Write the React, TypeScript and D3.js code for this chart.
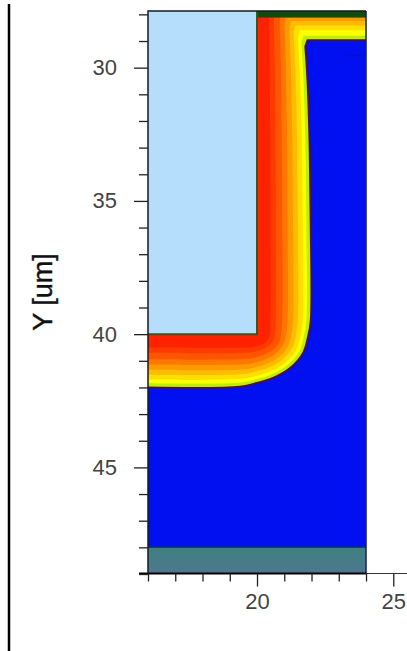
import React, { useEffect, useRef } from 'react';
import * as d3 from 'd3';

// tick values, um
const xMajorTicks = [20, 25];
const xMinorTicks = [16, 17, 18, 19, 21, 22, 23, 24];
const yMajorTicks = [30, 35, 40, 45];
const yMinorTicks = [28, 29, 31, 32, 33, 34, 36, 37, 38, 39, 41, 42, 43, 44, 46, 47, 48, 49];

// device layers, um
const xEdges = [16, 20, 24];
const yEdges = [27.87, 28.12, 40, 48, 49];

// outer edge of the doped region (x, y in um)
const junctionX = [24, 21.85, 21.77, 21.85, 21.93, 21.97, 21.97, 21.87, 21.69, 21.21, 20.59, 20, 19.38, 16];
const junctionY = [28.97, 28.97, 29.2, 30.5, 33, 36, 39.49, 40.1, 40.7, 41.27, 41.64, 41.83, 41.97, 42];

// contour bands, outermost first
const bandColors = ['#bcf000', '#ffff00', '#ffdd00', '#ffbb00', '#ff9900', '#ff7700', '#ff5500', '#ff3a00', '#ff2200'];
const bandFractions = [1, 0.92, 0.85, 0.76, 0.67, 0.57, 0.47, 0.35, 0.25];
const bandTops = [28.97, 28.8, 28.6, 28.42, 28.25, 28.1, 28, 28, 28];

// small dark streak in the substrate
const streakX = [23.3, 24];
const streakY = [29.55, 29.55];

const x = d3.scaleLinear().domain([16, 25.5]).range([148, 406.9]);
const y = d3.scaleLinear().domain([27.87, 49]).range([10.9, 574]);

function bandPath(k: number) {
  const f = bandFractions[k];
  const top = bandTops[k];
  const pts: [number, number][] = junctionX.map((jx, i) => {
    const jy = junctionY[i];
    const px = i === 0 || i === junctionX.length - 1 ? jx : 20 + f * (jx - 20);
    const py = jy <= 40
      ? top + ((jy - 28.97) * (40 - top)) / (40 - 28.97)
      : 40 + f * (jy - 40);
    return [px, py];
  });
  const line = d3.line<[number, number]>().x((d) => x(d[0])).y((d) => y(d[1]));
  const head = line(pts.slice(0, 3));
  const tail = line.curve(d3.curveCatmullRom.alpha(0.5))(pts.slice(2));
  return { fill: `${head}L${tail!.slice(1)}L${x(16)},${y(27.87)}L${x(24)},${y(27.87)}Z`, edge: `${head}L${tail!.slice(1)}` };
}

export default function App() {
  const axes = useRef<SVGGElement>(null);

  useEffect(() => {
    const g = d3.select(axes.current);
    g.selectAll('*').remove();

    const drawAxis = (axis: d3.Axis<number>, tx: number, ty: number) => {
      const a = g.append('g').attr('transform', `translate(${tx},${ty})`).call(axis as any);
      a.selectAll('.domain').remove();
      a.selectAll('line').attr('stroke', '#222').attr('stroke-width', 1.3);
      a.selectAll('text')
        .attr('font-family', '"Liberation Sans", Arial, sans-serif')
        .attr('font-size', 22)
        .attr('fill', '#444');
    };

    drawAxis(d3.axisLeft<number>(y).tickValues(yMinorTicks).tickSize(9).tickFormat(() => ''), x(16), 0);
    drawAxis(d3.axisLeft<number>(y).tickValues(yMajorTicks).tickSize(14).tickPadding(17).tickFormat(d3.format('d')), x(16), 0);
    drawAxis(d3.axisBottom<number>(x).tickValues(xMinorTicks).tickSize(8).tickFormat(() => ''), 0, 573.5);
    drawAxis(d3.axisBottom<number>(x).tickValues(xMajorTicks).tickSize(13).tickPadding(7).tickFormat(d3.format('d')), 0, 573.5);
  }, []);

  const bands = bandColors.map((c, k) => ({ color: c, ...bandPath(k) }));
  const [x0, xMask, x1] = xEdges;
  const [yTop, yStrip, yMask, yOxide, yBottom] = yEdges;

  return (
    <svg width={407} height={651} style={{ position: 'absolute', left: 0, top: 0, display: 'block', background: '#fff' }}>
      <defs>
        <clipPath id="plot">
          <rect x={x(x0)} y={y(yTop)} width={x(x1) - x(x0)} height={y(yBottom) - y(yTop)} />
        </clipPath>
        <linearGradient id="oxide" x1="0" y1="0" x2="0" y2="1">
          <stop offset="0" stopColor="#3f8080" />
          <stop offset="1" stopColor="#4d7790" />
        </linearGradient>
      </defs>

      {/* frame line at the far left */}
      <line x1={9} x2={9} y1={4} y2={651} stroke="#000" strokeWidth={2.5} />

      <g clipPath="url(#plot)">
        <rect x={x(x0)} y={y(yTop)} width={x(x1) - x(x0)} height={y(yBottom) - y(yTop)} fill="#0010f0" />
        <path d={`M${x(streakX[0])},${y(streakY[0])}L${x(streakX[1])},${y(streakY[1])}`} stroke="#0a14b0" strokeWidth={1} />
        {bands.map((b) => (
          <path key={b.color} d={b.fill} fill={b.color} />
        ))}
        <path d={bands[0].edge} fill="none" stroke="#5a1210" strokeWidth={1.8} />
        <rect x={x(xMask)} y={y(yTop)} width={x(x1) - x(xMask)} height={y(yStrip) - y(yTop)} fill="#0f4a10" />
        <rect x={x(x0)} y={y(yTop)} width={x(xMask) - x(x0)} height={y(yMask) - y(yTop)} fill="#b5defc" />
        <path
          d={`M${x(xMask)},${y(yTop)}V${y(yMask)}H${x(x0)}`}
          fill="none"
          stroke="#2c5a28"
          strokeWidth={2}
        />
        <rect x={x(x0)} y={y(yOxide)} width={x(x1) - x(x0)} height={y(yBottom) - y(yOxide)} fill="url(#oxide)" />
        <line x1={x(x0)} x2={x(x1)} y1={y(yOxide)} y2={y(yOxide)} stroke="#0a4a50" strokeWidth={1.2} />
      </g>

      {/* plot border */}
      <path d={`M${x(x0)},${y(yBottom)}V${y(yTop)}H${x(x1)}`} fill="none" stroke="#1a1a1a" strokeWidth={1.5} />
      <line x1={x(x1)} x2={x(x1)} y1={y(yTop)} y2={573} stroke="#14205a" strokeWidth={1.5} />
      <line x1={139} x2={x(x1)} y1={573.5} y2={573.5} stroke="#000" strokeWidth={2} />
      <line x1={x(x1)} x2={407} y1={573.5} y2={573.5} stroke="#333" strokeWidth={1} />

      <g ref={axes} />

      <text
        transform="translate(52,292) rotate(-90)"
        textAnchor="middle"
        fontFamily='"Liberation Sans", Arial, sans-serif'
        fontSize={27}
        fill="#111"
        stroke="#111"
        strokeWidth={0.4}
      >
        Y [um]
      </text>
    </svg>
  );
}
